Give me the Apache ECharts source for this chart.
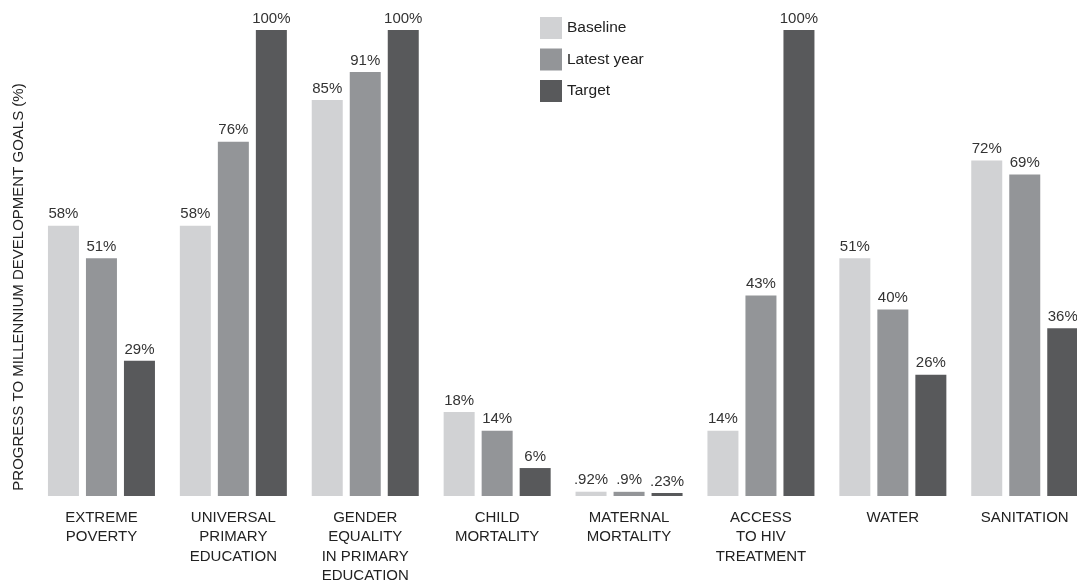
<!DOCTYPE html>
<html><head><meta charset="utf-8">
<script src="https://cdn.jsdelivr.net/npm/echarts@6/dist/echarts.min.js"></script>
<style>html,body{margin:0;padding:0;background:#fff}#c{width:1077px;height:581px}</style>
</head><body><div id="c"></div>
<script>
const categories = ['EXTREME\nPOVERTY','UNIVERSAL\nPRIMARY\nEDUCATION','GENDER\nEQUALITY\nIN PRIMARY\nEDUCATION','CHILD\nMORTALITY','MATERNAL\nMORTALITY','ACCESS\nTO HIV\nTREATMENT','WATER','SANITATION'];
const baseline = [58, 58, 85, 18, 0.92, 14, 51, 72];
const latest = [51, 76, 91, 14, 0.9, 43, 40, 69];
const target = [29, 100, 100, 6, 0.23, 100, 26, 36];
const seriesNames = ['Baseline', 'Latest year', 'Target'];
const colors = ['#d1d2d4', '#939598', '#58595b'];
const yTitle = 'PROGRESS TO MILLENNIUM DEVELOPMENT GOALS (%)';

const font = 'Liberation Sans, Arial, sans-serif';
function fmt(v){
  let s = String(v);
  if (v < 1) s = s.replace(/^0/, '');
  return s + '%';
}
const chart = echarts.init(document.getElementById('c'), null, {renderer:'canvas'});
const data = [baseline, latest, target];
chart.setOption({
  animation:false,
  color: colors,
  grid:{left:35.5, width:1055.2, top:30, bottom:85, containLabel:false, outerBoundsMode:'none'},
  legend:{
    orient:'vertical', left:535, top:12, itemWidth:22, itemHeight:22, itemGap:9.5,
    icon:'rect', data: seriesNames,
    textStyle:{fontFamily:font, fontSize:15.5, color:'#222', padding:[3,0,0,0]}
  },
  xAxis:{
    type:'category', data:categories,
    axisLine:{show:false}, axisTick:{show:false},
    axisLabel:{interval:0, margin:12, fontFamily:font, fontSize:15, color:'#222', lineHeight:19.5, verticalAlign:'top'}
  },
  yAxis:{
    type:'value', min:0, max:100, show:false
  },
  graphic:[{
    type:'text', x:19, y:287, rotation:Math.PI/2,
    style:{text:yTitle, fontFamily:font, fontSize:15, fill:'#222', align:'center', verticalAlign:'middle'}
  }],
  series: seriesNames.map((n,i)=>({
    name:n, type:'bar', data:data[i], barWidth:31, barGap:'22.6%', barMinHeight:3,
    itemStyle:{color:colors[i]},
    label:{show:true, position:'top', distance:4, formatter:p=>fmt(p.value), fontFamily:font, fontSize:15, color:'#333'}
  }))
});
</script></body></html>
